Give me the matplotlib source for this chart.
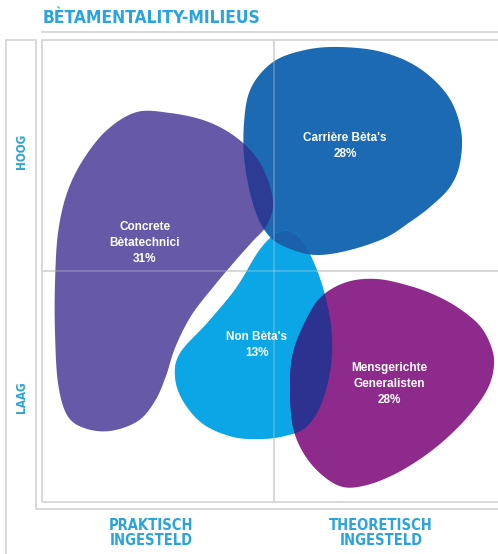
import numpy as np
import matplotlib
matplotlib.use("Agg")
import matplotlib.pyplot as plt
from matplotlib.patches import Polygon

# segmenten en aandelen (%)
segments = ["Concrete\nBètatechnici", "Carrière Bèta's", "Non Bèta's", "Mensgerichte\nGeneralisten"]
shares = [31, 28, 13, 28]

title = "BÈTAMENTALITY-MILIEUS"
y_labels = ["HOOG", "LAAG"]
x_labels = ["PRAKTISCH\nINGESTELD", "THEORETISCH\nINGESTELD"]

# vorm van elke blob (omtrekpunten, beeldcoordinaten)
outline_concrete = [(137, 112), (170, 113), (203, 120), (230, 133), (252, 152), (266, 175),
                    (273, 203), (267, 225), (252, 242), (236, 260), (214, 286), (191, 316),
                    (175, 348), (166, 376), (155, 401), (138, 421), (110, 431), (84, 428),
                    (67, 415), (58, 383), (55, 333), (55, 283), (58, 233), (67, 193),
                    (83, 160), (107, 130)]
outline_carriere = [(340, 47), (382, 52), (419, 68), (448, 96), (461, 130), (460, 163),
                    (450, 187), (430, 207), (410, 222), (385, 238), (350, 250), (318, 255),
                    (293, 250), (270, 237), (255, 210), (245, 165), (244, 123), (251, 88),
                    (273, 62), (305, 50)]
outline_nonbeta = [(289, 231), (303, 242), (317, 270), (327, 303), (332, 337), (330, 372),
                   (320, 407), (305, 428), (285, 436), (262, 439), (233, 437), (203, 424),
                   (183, 401), (175, 377), (180, 353), (208, 322), (236, 288), (258, 252),
                   (274, 235)]
outline_mens = [(347, 282), (377, 279), (410, 286), (437, 296), (460, 309), (480, 326),
                (491, 346), (494, 365), (488, 388), (471, 413), (448, 437), (423, 457),
                (395, 474), (367, 485), (343, 487), (322, 475), (304, 454), (293, 427),
                (290, 388), (293, 353), (306, 320), (322, 296)]

colors = ["#6559a8", "#1c69b4", "#0ba6e6", "#8d2a8c"]
overlap_concrete_carriere = "#2c3b93"
overlap_carriere_nonbeta = "#1a60ab"
overlap_nonbeta_mens = "#2d3190"

label_pos = [(145, 243), (345, 146), (257, 345), (389, 384)]

cyan = "#2ba3dc"
grid = "#d6d6d6"


def smooth(pts, n=24):
    # gesloten Catmull-Rom kromme door de omtrekpunten
    p = np.asarray(pts, float)
    m = len(p)
    t = np.linspace(0, 1, n, endpoint=False)[:, None]
    out = []
    for i in range(m):
        p0, p1, p2, p3 = p[i - 1], p[i], p[(i + 1) % m], p[(i + 2) % m]
        out.append(0.5 * (2 * p1 + (-p0 + p2) * t + (2 * p0 - 5 * p1 + 4 * p2 - p3) * t ** 2
                          + (-p0 + 3 * p1 - 3 * p2 + p3) * t ** 3))
    return np.vstack(out)


fig = plt.figure(figsize=(4.98, 5.54), dpi=100)
ax = fig.add_axes([0, 0, 1, 1])
ax.set_xlim(0, 498)
ax.set_ylim(554, 0)
ax.axis("off")

lw = 1.3
# kaders
ax.plot([42, 498], [32, 32], color=grid, lw=lw)
ax.plot([6, 36, 36, 498], [40, 40, 509, 509], color=grid, lw=lw)
ax.plot([6, 6], [40, 554], color=grid, lw=lw)
ax.plot([498, 42, 42, 498], [40, 40, 502, 502], color=grid, lw=lw)
ax.plot([274, 274], [40, 502], color=grid, lw=lw)
ax.plot([42, 498], [271, 271], color=grid, lw=lw)

outlines = [outline_concrete, outline_carriere, outline_nonbeta, outline_mens]
patches = []
for i, (pts, c) in enumerate(zip(outlines, colors)):
    pg = Polygon(smooth(pts), closed=True, facecolor=c, edgecolor="none", zorder=2 + 0.2 * i)
    ax.add_patch(pg)
    patches.append(pg)

# witte rand tussen Concrete en Non Bèta's
gap = Polygon(smooth(outline_nonbeta), closed=True, facecolor="none", edgecolor="white",
              lw=6, zorder=2.1)
ax.add_patch(gap)
gap.set_clip_path(patches[0])

# overlappingen
for a, b, c in [(0, 1, overlap_concrete_carriere), (1, 2, overlap_carriere_nonbeta),
                (2, 3, overlap_nonbeta_mens)]:
    ov = Polygon(smooth(outlines[b]), closed=True, facecolor=c, edgecolor="none", zorder=3)
    ax.add_patch(ov)
    ov.set_clip_path(patches[a])

# rasterlijnen licht zichtbaar over de blobs
ax.plot([274, 274], [40, 502], color="#d8d8d8", lw=lw, alpha=0.3, zorder=4)
ax.plot([42, 498], [271, 271], color="#d8d8d8", lw=lw, alpha=0.3, zorder=4)

for name, share, (x, y) in zip(segments, shares, label_pos):
    ax.text(x, y, f"{name}\n{share}%", ha="center", va="center", color="white",
            fontsize=8.5, fontweight="bold", family="Liberation Sans", linespacing=1.4,
            zorder=5)

ax.text(43, 18, title, ha="left", va="center", color=cyan, fontsize=12.5,
        fontweight="bold", family="DejaVu Sans", fontstretch="condensed")
ax.text(21, 151, y_labels[0], rotation=90, ha="center", va="center", color=cyan,
        fontsize=8.5, fontweight="bold", family="DejaVu Sans", fontstretch="condensed")
ax.text(21, 397, y_labels[1], rotation=90, ha="center", va="center", color=cyan,
        fontsize=8.5, fontweight="bold", family="DejaVu Sans", fontstretch="condensed")
ax.text(151, 533, x_labels[0], ha="center", va="center", color=cyan, fontsize=10.5,
        fontweight="bold", family="DejaVu Sans", fontstretch="condensed", linespacing=1.05)
ax.text(381, 533, x_labels[1], ha="center", va="center", color=cyan, fontsize=10.5,
        fontweight="bold", family="DejaVu Sans", fontstretch="condensed", linespacing=1.05)

fig.savefig("out.png", dpi=100)
